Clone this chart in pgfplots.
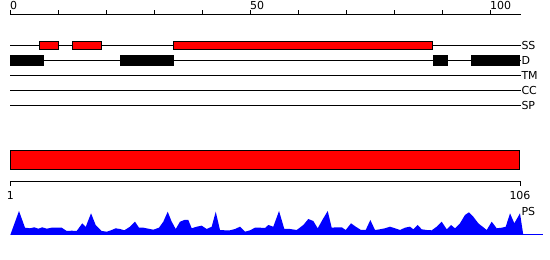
\documentclass[border=0pt]{standalone}
\usepackage{fontspec}
\setmainfont{DejaVu Sans}
\usepackage{pgfplots}
\pgfplotsset{compat=1.18}
\pgfplotsset{
  every tick label/.append style={font=\fontsize{11}{13}\selectfont},
  /pgf/number format/assume math mode=true,
}
\begin{document}
\fontsize{11}{13}\selectfont
\begin{tikzpicture}
\path[use as bounding box] (0pt,0pt) rectangle (550pt,260pt);

% top ruler
\begin{axis}[at={(10.3pt,244pt)}, anchor=south west, scale only axis,
  width=510.7pt, height=1pt, xmin=0, xmax=106.4, ymin=0, ymax=1,
  axis x line=top, axis y line=none, x axis line style={-, line width=1pt},
  xtick={0,10,...,100}, xticklabels={0,,,,,50,,,,,100},
  tick align=outside, major tick length=4.7pt,
  tick style={black, line width=1pt},
  xticklabel style={anchor=south west, inner sep=0pt, xshift=-0.3pt, yshift=0.5pt}]
\addplot[draw=none] coordinates {(0,0)};
\end{axis}

% tracks
\begin{axis}[at={(10.3pt,0pt)}, anchor=south west, scale only axis,
  width=510.7pt, height=260pt, xmin=0, xmax=106.4, ymin=0, ymax=260,
  y dir=reverse, clip=false, axis x line=none, axis y line*=right,
  y axis line style={draw=none},
  ytick={45,60,75,90,105,211.5}, yticklabels={SS,D,TM,CC,SP,PS},
  major tick length=0pt,
  yticklabel style={anchor=west, inner sep=0pt, xshift=0.3pt}]
% track lines
\addplot[black, line width=1pt] coordinates {(0,45)(106.4,45)};
\addplot[black, line width=1pt] coordinates {(0,60.3)(106.4,60.3)};
\addplot[black, line width=1pt] coordinates {(0,75.3)(106.4,75.3)};
\addplot[black, line width=1pt] coordinates {(0,90.3)(106.4,90.3)};
\addplot[black, line width=1pt] coordinates {(0,105.3)(106.4,105.3)};
% SS segments
\addplot[fill=red, draw=black, line width=1pt] coordinates {(6,41.2)(10,41.2)(10,49.8)(6,49.8)} -- cycle;
\addplot[fill=red, draw=black, line width=1pt] coordinates {(13,41.2)(19,41.2)(19,49.8)(13,49.8)} -- cycle;
\addplot[fill=red, draw=black, line width=1pt] coordinates {(34,41.2)(88,41.2)(88,49.8)(34,49.8)} -- cycle;
% D segments
\addplot[fill=black, draw=black, line width=1pt] coordinates {(0.1,55.5)(7,55.5)(7,65.2)(0.1,65.2)} -- cycle;
\addplot[fill=black, draw=black, line width=1pt] coordinates {(23,55.5)(34,55.5)(34,65.2)(23,65.2)} -- cycle;
\addplot[fill=black, draw=black, line width=1pt] coordinates {(88.1,55.5)(91,55.5)(91,65.2)(88.1,65.2)} -- cycle;
\addplot[fill=black, draw=black, line width=1pt] coordinates {(96.1,55.5)(106.1,55.5)(106.1,65.2)(96.1,65.2)} -- cycle;
% full-length domain bar
\addplot[fill=red, draw=black, line width=1pt] coordinates {(0.1,150.8)(106.1,150.8)(106.1,169.8)(0.1,169.8)} -- cycle;
\end{axis}

% bottom ruler
\begin{axis}[at={(10.3pt,78.7pt)}, anchor=south west, scale only axis,
  width=509.7pt, height=1pt, xmin=1, xmax=106, ymin=0, ymax=1,
  axis x line=bottom, axis y line=none, x axis line style={-, line width=1pt},
  xtick={1,106}, tick align=outside, major tick length=4.7pt,
  tick style={black, line width=1pt},
  xticklabel style={anchor=north, inner sep=0pt, yshift=-5.5pt}]
\addplot[draw=none] coordinates {(1,0)};
\end{axis}

% profile
\begin{axis}[at={(10.3pt,25pt)}, anchor=south west, scale only axis,
  width=509.7pt, height=24pt, xmin=1, xmax=106, ymin=0, ymax=24,
  hide axis, clip=false]
\addplot[fill=blue, draw=none] coordinates {
(1.00,0)(2.79,24)(4.03,7.3)(5.06,6.7)(5.94,7.7)(6.77,6.3)(7.59,7.7)(8.50,6.3)
(9.53,7.3)(10.56,7.3)(11.59,7.3)(12.62,4)(13.65,4.3)(14.68,4)(15.83,11.7)
(16.53,8)(17.63,21.7)(18.59,10)(19.83,4)(20.86,3.3)(21.75,4.7)(22.71,6.7)
(23.60,6)(24.49,4.7)(25.66,8.3)(26.69,13.3)(27.51,7.3)(28.40,7.3)(29.43,6.3)
(30.46,5.3)(31.63,7.3)(32.52,13.3)(33.43,23.3)(34.25,13.3)(35.08,6)(35.96,13.3)
(36.85,15)(37.67,15)(38.37,6.7)(39.40,8.3)(40.43,9.3)(41.46,6)(42.49,8.3)
(43.32,23.3)(44.20,5)(45.23,4.7)(46.26,4.7)(47.29,6)(48.32,8.3)(49.35,3.3)
(50.38,4.7)(51.41,7.3)(52.44,7.3)(53.47,7)(54.15,10)(55.18,8.3)(56.36,24)
(57.45,6)(58.62,6)(60.00,5)(61.36,10)(62.39,16)(63.42,14)(64.33,6.7)(65.28,15)
(66.39,24)(67.21,7.3)(68.24,7.7)(69.27,7.7)(70.10,5)(71.19,11.7)(72.16,8.3)
(73.25,5)(74.22,5)(75.17,15)(76.13,5)(77.16,5.7)(78.19,6.7)(79.22,8.3)(80.25,6.7)
(81.28,5)(82.31,7.3)(83.34,8.3)(84.02,5.7)(84.93,10)(85.75,5.7)(86.78,5)
(87.81,4.7)(88.84,8.3)(89.87,13.3)(90.90,5.7)(91.79,10)(92.61,6.7)(93.64,11.7)
(94.67,20)(95.50,22.7)(96.38,18.3)(97.41,11.7)(99.14,5)(100.17,13.3)(101.20,6.7)
(102.23,7.3)(103.06,8.3)(103.95,21.7)(104.83,11.7)(106.00,21.7)(106.68,0)
} \closedcycle;
\addplot[blue, line width=1pt] coordinates {(106.5,0.5)(110.7,0.5)};
\end{axis}
\end{tikzpicture}
\end{document}
